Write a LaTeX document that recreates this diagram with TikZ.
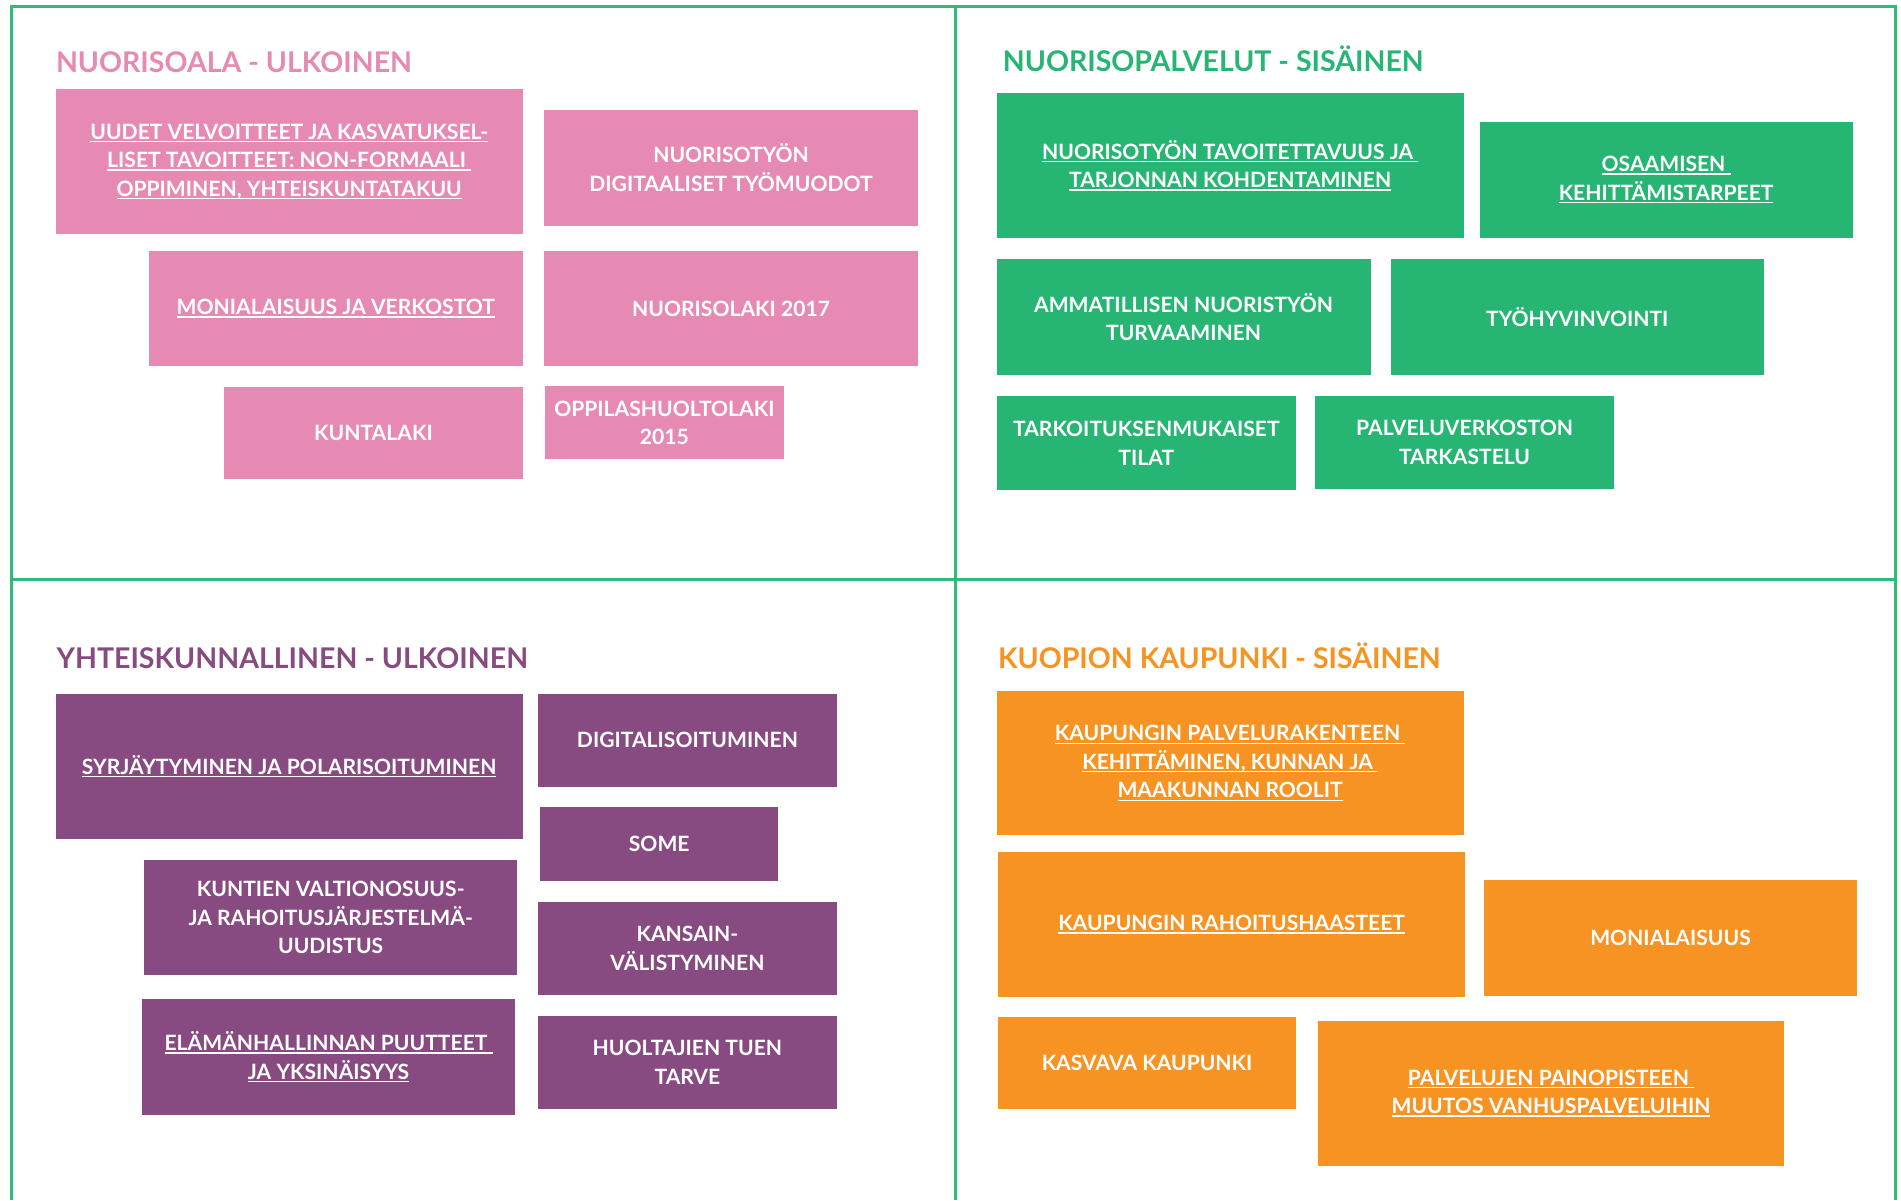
\documentclass[tikz,border=0pt]{standalone}
\usepackage{fontspec}
\setmainfont{Lato}
\definecolor{pinkc}{HTML}{E68AB3}
\definecolor{greenc}{HTML}{27B574}
\definecolor{purplec}{HTML}{874B81}
\definecolor{orangec}{HTML}{F69322}
\definecolor{framec}{HTML}{2FBA79}
\newsavebox{\ulbox}
\newcommand{\ul}[1]{\sbox{\ulbox}{#1}\rlap{\rule[-2.4pt]{\wd\ulbox}{1.1pt}}\usebox{\ulbox}}
\tikzset{
  frameline/.style={draw=framec, line width=2pt},
  title/.style={anchor=base west, inner sep=0pt, font=\bfseries\fontsize{23.5}{28}\selectfont},
  box/.style={rectangle, inner sep=0pt, text=white, align=center,
    font=\bfseries\fontsize{17.4}{23.5}\selectfont},
  pbox/.style={box, fill=pinkc},
  gbox/.style={box, fill=greenc},
  vbox/.style={box, fill=purplec},
  obox/.style={box, fill=orangec},
}
\begin{document}
\begin{tikzpicture}[x=1pt,y=-1pt]
\useasboundingbox (0,0) rectangle (1568,990);
\fill[white] (0,0) rectangle (1568,990);
% frame
\coordinate (tl) at (9.5,5.5);
\coordinate (tr) at (1563.5,5.5);
\coordinate (bl) at (9.5,990);
\coordinate (br) at (1563.5,990);
\coordinate (mt) at (788,5.5);
\coordinate (mb) at (788,990);
\coordinate (ml) at (9.5,478);
\coordinate (mr) at (1563.5,478);
\draw[frameline] (bl) -- (tl) -- (tr) -- (br);
\draw[frameline] (mt) -- (mb);
\draw[frameline] (ml) -- (mr);
% titles
\node[title, text=pinkc] (t1) at (46,60) {NUORISOALA - ULKOINEN};
\node[title, text=greenc] (t2) at (827,59.3) {NUORISOPALVELUT - SISÄINEN};
\node[title, text=purplec] (t3) at (46.5,551.8) {YHTEISKUNNALLINEN - ULKOINEN};
\node[title, text=orangec] (t4) at (823,551.8) {KUOPION KAUPUNKI - SISÄINEN};
% pink
\node[pbox, minimum width=385pt, minimum height=119.5pt] (pa) at (238.5,133.25)
  {\ul{UUDET VELVOITTEET JA KASVATUKSEL-}\\\ul{LISET TAVOITTEET: NON-FORMAALI\ }\\\ul{OPPIMINEN, YHTEISKUNTATAKUU}};
\node[pbox, minimum width=308pt, minimum height=95.4pt] (pb) at (603,138.3)
  {NUORISOTYÖN\\DIGITAALISET TYÖMUODOT};
\node[pbox, minimum width=308pt, minimum height=95pt] (pc) at (277,254.5)
  {\ul{MONIALAISUUS JA VERKOSTOT}};
\node[pbox, minimum width=308pt, minimum height=95pt] (pd) at (603,254.5)
  {NUORISOLAKI 2017};
\node[pbox, minimum width=246pt, minimum height=76pt] (pe) at (308,357)
  {KUNTALAKI};
\node[pbox, minimum width=197pt, minimum height=60.5pt] (pf) at (548,348.75)
  {OPPILASHUOLTOLAKI\\2015};
% green
\node[gbox, minimum width=385.3pt, minimum height=119.3pt] (ga) at (1014.65,136.35)
  {\ul{NUORISOTYÖN TAVOITETTAVUUS JA\ }\\\ul{TARJONNAN KOHDENTAMINEN}};
\node[gbox, minimum width=307.5pt, minimum height=95.3pt] (gb) at (1374.25,148.35)
  {\ul{OSAAMISEN\ }\\\ul{KEHITTÄMISTARPEET}};
\node[gbox, minimum width=308.5pt, minimum height=95.3pt] (gc) at (976.25,261.35)
  {AMMATILLISEN NUORISTYÖN\\TURVAAMINEN};
\node[gbox, minimum width=308pt, minimum height=95.3pt] (gd) at (1301,261.35)
  {TYÖHYVINVOINTI};
\node[gbox, minimum width=247pt, minimum height=77pt] (ge) at (945.5,365.5)
  {TARKOITUKSENMUKAISET\\TILAT};
\node[gbox, minimum width=246pt, minimum height=76.3pt] (gf) at (1208,364.85)
  {PALVELUVERKOSTON\\TARKASTELU};
% purple
\node[vbox, minimum width=385pt, minimum height=119.4pt] (va) at (238.5,632)
  {\ul{SYRJÄYTYMINEN JA POLARISOITUMINEN}};
\node[vbox, minimum width=246pt, minimum height=76.7pt] (vb) at (567,610.65)
  {DIGITALISOITUMINEN};
\node[vbox, minimum width=196.5pt, minimum height=60.7pt] (vc) at (543.75,695.95)
  {SOME};
\node[vbox, minimum width=308.1pt, minimum height=95.3pt] (vd) at (272.75,756.95)
  {KUNTIEN VALTIONOSUUS-\\JA RAHOITUSJÄRJESTELMÄ-\\UUDISTUS};
\node[vbox, minimum width=246pt, minimum height=76.6pt] (ve) at (567,782.2)
  {KANSAIN-\\VÄLISTYMINEN};
\node[vbox, minimum width=308pt, minimum height=95.3pt] (vf) at (271,871.75)
  {\ul{ELÄMÄNHALLINNAN PUUTTEET\ }\\\ul{JA YKSINÄISYYS}};
\node[vbox, minimum width=246pt, minimum height=76.3pt] (vg) at (567,876.35)
  {HUOLTAJIEN TUEN\\TARVE};
% orange
\node[obox, minimum width=385.3pt, minimum height=119pt] (oa) at (1014.65,629.5)
  {\ul{KAUPUNGIN PALVELURAKENTEEN\ }\\\ul{KEHITTÄMINEN, KUNNAN JA\ }\\\ul{MAAKUNNAN ROOLIT}};
\node[obox, minimum width=385.1pt, minimum height=119.4pt] (ob) at (1015.85,762.5)
  {\ul{KAUPUNGIN RAHOITUSHAASTEET}};
\node[obox, minimum width=307.7pt, minimum height=95.2pt] (oc) at (1377.85,773.6)
  {MONIALAISUUS};
\node[obox, minimum width=245.6pt, minimum height=76.2pt] (od) at (946.1,876.9)
  {KASVAVA KAUPUNKI};
\node[obox, minimum width=384.6pt, minimum height=119.4pt] (oe) at (1279.3,901.7)
  {\ul{PALVELUJEN PAINOPISTEEN\ }\\\ul{MUUTOS VANHUSPALVELUIHIN}};
\end{tikzpicture}
\end{document}
